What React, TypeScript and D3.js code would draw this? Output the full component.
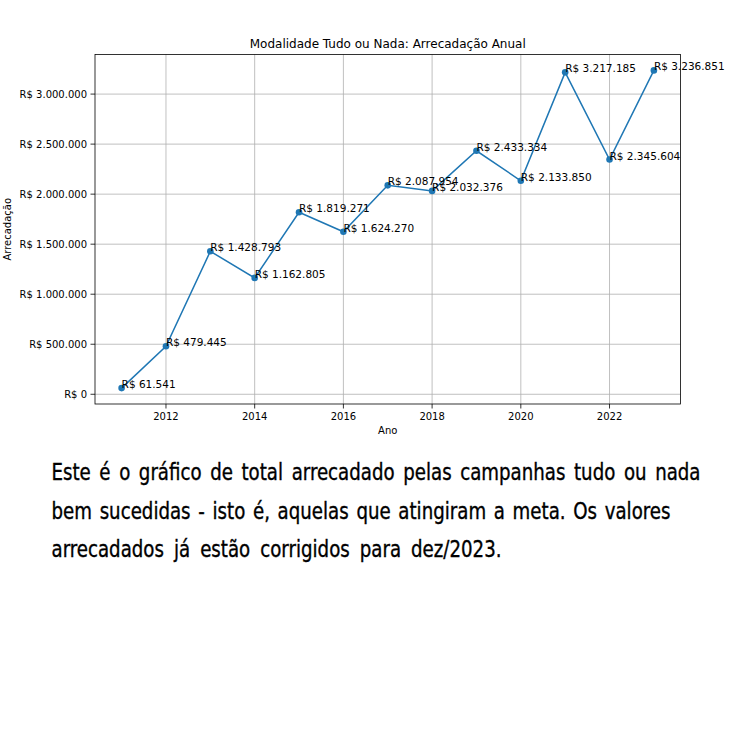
import React, { useLayoutEffect, useRef, useState } from "react";
import * as d3 from "d3";

const years = [2011, 2012, 2013, 2014, 2015, 2016, 2017, 2018, 2019, 2020, 2021, 2022, 2023];
const values = [61541, 479445, 1428793, 1162805, 1819271, 1624270, 2087954, 2032376, 2433334, 2133850, 3217185, 2345604, 3236851];
const xTicks = [2012, 2014, 2016, 2018, 2020, 2022];
const yTicks = [0, 500000, 1000000, 1500000, 2000000, 2500000, 3000000];
const title = "Modalidade Tudo ou Nada: Arrecadação Anual";
const xLabel = "Ano";
const yLabel = "Arrecadação";
const captionLines = [
  "Este é o gráfico de total arrecadado pelas campanhas tudo ou nada",
  "bem sucedidas - isto é, aquelas que atingiram a meta. Os valores",
  "arrecadados já estão corrigidos para dez/2023.",
];

const fmt = (v: number) => "R$ " + d3.format(",")(v).replace(/,/g, ".");

const capFont = "'DejaVu Sans Condensed', 'Liberation Sans Narrow', sans-serif";
const capSize = 23;

export default function App() {
  const L = 95, R = 680.5, T = 54.5, B = 404;
  const xr = d3.extent(years) as [number, number];
  const xm = (xr[1] - xr[0]) * 0.05;
  const x = d3.scaleLinear().domain([xr[0] - xm, xr[1] + xm]).range([L, R]);
  const yr = d3.extent(values) as [number, number];
  const ym = (yr[1] - yr[0]) * 0.05;
  const y = d3.scaleLinear().domain([yr[0] - ym, yr[1] + ym]).range([B, T]);
  const line = d3.line<number>().x((_, i) => x(years[i])).y((d) => y(d));
  const font = "DejaVu Sans, sans-serif";
  const capX = 51.5;
  const capW = [649, 619, 450];
  const capY = [479.5, 518.5, 557];
  const lastGap = 10;

  const wordsByLine = captionLines.map((l) => l.split(" "));
  const measRef = useRef<SVGGElement>(null);
  const [layout, setLayout] = useState<{ w: string; x: number; len: number }[][] | null>(null);

  useLayoutEffect(() => {
    const g = measRef.current;
    if (!g) return;
    const texts = Array.from(g.querySelectorAll("text")) as SVGTextElement[];
    const widths: number[][] = wordsByLine.map((ws) => ws.map(() => 0));
    texts.forEach((t) => {
      const li = t.getAttribute("data-l");
      const wi = t.getAttribute("data-w");
      if (li !== null && wi !== null) widths[+li][+wi] = t.getComputedTextLength();
    });
    const lastWords = widths[2].reduce((a, b) => a + b, 0);
    const s = (capW[2] - lastGap * (widths[2].length - 1)) / lastWords;
    const res = wordsByLine.map((words, li) => {
      const ws = widths[li].map((w) => w * s);
      const sum = ws.reduce((a, b) => a + b, 0);
      const gap = li < 2 ? (capW[li] - sum) / (words.length - 1) : lastGap;
      let cx = capX;
      return words.map((w, i) => {
        const o = { w, x: cx, len: ws[i] };
        cx += ws[i] + gap;
        return o;
      });
    });
    setLayout(res);
  }, []);

  return (
    <svg width={756} height={756} style={{ position: "absolute", left: 0, top: 0, background: "#fff" }}>
      <rect width={756} height={756} fill="#fff" />
      {xTicks.map((t) => (
        <line key={"gx" + t} x1={x(t)} x2={x(t)} y1={T} y2={B} stroke="#b0b0b0" strokeWidth={0.8} />
      ))}
      {yTicks.map((t) => (
        <line key={"gy" + t} x1={L} x2={R} y1={y(t)} y2={y(t)} stroke="#b0b0b0" strokeWidth={0.8} />
      ))}
      <path d={line(values) || ""} fill="none" stroke="#1f77b4" strokeWidth={1.5} />
      {values.map((v, i) => (
        <circle key={"p" + i} cx={x(years[i])} cy={y(v)} r={3.3} fill="#1f77b4" />
      ))}
      {values.map((v, i) => (
        <text key={"l" + i} x={x(years[i])} y={y(v)} fontFamily={font} fontSize={10.5} fill="#000">
          {fmt(v)}
        </text>
      ))}
      <rect x={L} y={T} width={R - L} height={B - T} fill="none" stroke="#000" strokeWidth={0.8} />
      {xTicks.map((t) => (
        <g key={"tx" + t}>
          <line x1={x(t)} x2={x(t)} y1={B} y2={B + 4.5} stroke="#000" strokeWidth={0.8} />
          <text x={x(t)} y={B + 16} textAnchor="middle" fontFamily={font} fontSize={10} fill="#000">
            {t}
          </text>
        </g>
      ))}
      {yTicks.map((t) => (
        <g key={"ty" + t}>
          <line x1={L - 4.5} x2={L} y1={y(t)} y2={y(t)} stroke="#000" strokeWidth={0.8} />
          <text x={L - 8} y={y(t)} dy="0.35em" textAnchor="end" fontFamily={font} fontSize={10} fill="#000">
            {fmt(t)}
          </text>
        </g>
      ))}
      <text x={(L + R) / 2} y={T - 6.5} textAnchor="middle" fontFamily={font} fontSize={12} fill="#000">
        {title}
      </text>
      <text x={(L + R) / 2} y={B + 30} textAnchor="middle" fontFamily={font} fontSize={10} fill="#000">
        {xLabel}
      </text>
      <text
        transform={`translate(10.5, ${(T + B) / 2}) rotate(-90)`}
        textAnchor="middle"
        fontFamily={font}
        fontSize={10}
        fill="#000"
      >
        {yLabel}
      </text>
      {!layout && (
        <g ref={measRef} visibility="hidden">
          {wordsByLine.map((ws, li) =>
            ws.map((w, wi) => (
              <text key={"m" + li + "_" + wi} data-l={li} data-w={wi} x={0} y={-100} fontFamily={capFont} fontSize={capSize}>
                {w}
              </text>
            ))
          )}
        </g>
      )}
      {layout &&
        layout.map((words, li) =>
          words.map((o, i) => (
            <text
              key={"c" + li + "_" + i}
              x={o.x}
              y={capY[li]}
              fontFamily={capFont}
              fontSize={capSize}
              textLength={o.len}
              lengthAdjust="spacingAndGlyphs"
              fill="#000"
              stroke="#000"
              strokeWidth={0.35}
            >
              {o.w}
            </text>
          ))
        )}
    </svg>
  );
}
